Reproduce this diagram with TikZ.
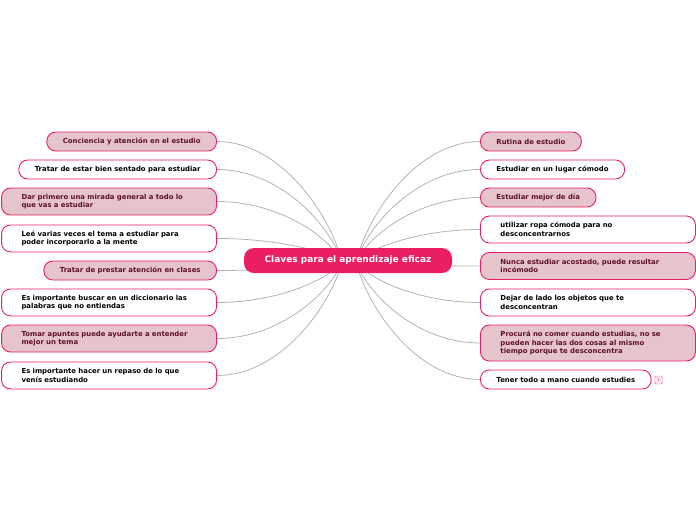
\documentclass[tikz,border=0pt]{standalone}
\usepackage{fontspec}
\setmainfont{DejaVu Sans}
\usetikzlibrary{calc}
\pgfdeclarelayer{bg}
\pgfsetlayers{bg,main}
\definecolor{mainpink}{HTML}{E91E63}
\definecolor{softpink}{HTML}{E6C4CB}
\definecolor{darkred}{HTML}{5C1028}
\definecolor{linegray}{HTML}{B3B3B3}
\begin{document}
\begin{tikzpicture}[x=1pt,y=-1pt,
 base/.style={draw=mainpink, line width=0.9pt, rounded corners=9pt, font=\fontsize{6.9}{8.7}\selectfont\bfseries, inner ysep=0pt},
 one/.style={base, inner xsep=16pt, minimum height=19pt},
 multi/.style={base, text width=175pt, inner xsep=20pt, align=left},
 two/.style={multi, minimum height=27pt},
 three/.style={multi, minimum height=36pt},
 filled/.style={fill=softpink, text=darkred},
 plain/.style={fill=white, text=black},
 conn/.style={draw=linegray, line width=0.8pt},
 centre/.style={fill=mainpink, rounded corners=10pt, minimum width=208pt, minimum height=25pt, inner sep=0pt, text=white, font=\fontsize{9}{10}\selectfont\bfseries},
 badge/.style={draw=mainpink!60, fill=softpink!40, rounded corners=1.5pt, minimum size=8pt, inner sep=0pt, font=\fontsize{4.5}{5}\selectfont, text=gray},
]
\useasboundingbox (0,0) rectangle (696,520);

\node[centre] (c) at (348,260.5) {Claves para el aprendizaje eficaz};
\coordinate (L) at (342,262);
\coordinate (R) at (356,262);

% left
\node[one,filled,anchor=east] (l1) at (217,141.5) {Conciencia y atención en el estudio};
\node[one,plain,anchor=east] (l2) at (217,169.5) {Tratar de estar bien sentado para estudiar};
\node[two,filled,anchor=east] (l3) at (217,201.5) {Dar primero una mirada general a todo lo\\que vas a estudiar};
\node[two,plain,anchor=east] (l4) at (217,238.5) {Leé varias veces el tema a estudiar para\\poder incorporarlo a la mente};
\node[one,filled,anchor=east] (l5) at (217,270.5) {Tratar de prestar atención en clases};
\node[two,plain,anchor=east] (l6) at (217,302.5) {Es importante buscar en un diccionario las\\palabras que no entiendas};
\node[two,filled,anchor=east] (l7) at (217,338.5) {Tomar apuntes puede ayudarte a entender\\mejor un tema};
\node[two,plain,anchor=east] (l8) at (217,375.5) {Es importante hacer un repaso de lo que\\venís estudiando};

% right
\node[one,filled,anchor=west] (r1) at (480,141.5) {Rutina de estudio};
\node[one,plain,anchor=west] (r2) at (480,169.5) {Estudiar en un lugar cómodo};
\node[one,filled,anchor=west] (r3) at (480,197.5) {Estudiar mejor de día};
\node[two,plain,anchor=west] (r4) at (480,229.5) {utilizar ropa cómoda para no\\desconcentrarnos};
\node[two,filled,anchor=west] (r5) at (480,266) {Nunca estudiar acostado, puede resultar\\incómodo};
\node[two,plain,anchor=west] (r6) at (480,302.5) {Dejar de lado los objetos que te\\desconcentran};
\node[three,filled,anchor=west] (r7) at (480,343) {Procurá no comer cuando estudias, no se\\pueden hacer las dos cosas al mismo\\tiempo porque te desconcentra};
\node[one,plain,anchor=west] (r8) at (480,379.5) {Tener todo a mano cuando estudies};
\node[badge] (b) at (658.5,380) {1};

\begin{pgfonlayer}{bg}
\foreach \nm in {l1,l2,l3,l4,l5,l6,l7,l8}
  \draw[conn] let \p1=(\nm.east), \p2=(L) in (\p1) .. controls (\x1+63pt,\y1) and (\x2-12pt,{\y1+0.6*(\y2-\y1)}) .. (\p2);
\foreach \nm in {r1,r2,r3,r4,r5,r6,r7,r8}
  \draw[conn] let \p1=(\nm.west), \p2=(R) in (\p1) .. controls (\x1-63pt,\y1) and (\x2+12pt,{\y1+0.6*(\y2-\y1)}) .. (\p2);
\end{pgfonlayer}
\end{tikzpicture}
\end{document}
